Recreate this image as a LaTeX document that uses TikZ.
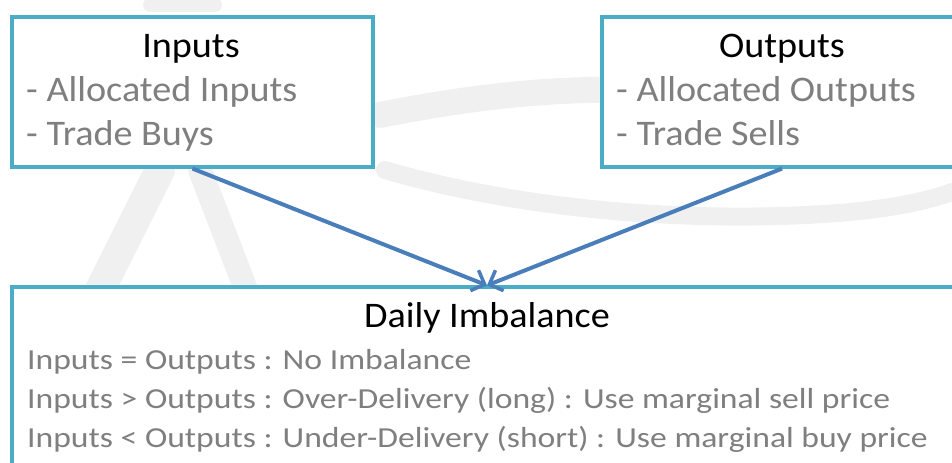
\documentclass[tikz,border=0pt]{standalone}
\usepackage{fontspec}
\setmainfont{Carlito}
\newfontfamily\bigf[FakeStretch=1.06]{Carlito}
\newfontfamily\smallf[FakeStretch=1.16]{Carlito}
\usetikzlibrary{arrows.meta}
\definecolor{boxc}{HTML}{4BACC6}
\definecolor{arrc}{HTML}{4A7EBB}
\definecolor{txtc}{HTML}{7F7F7F}
\definecolor{wmc}{HTML}{F0F0F0}
\tikzset{
  box/.style={draw=boxc, line width=3.2bp, fill=white, inner sep=0pt},
  ttl/.style={anchor=base, inner sep=0pt, text=black, font=\bigf\fontsize{36bp}{40bp}\selectfont},
  itm/.style={anchor=base west, inner sep=0pt, text=txtc, font=\bigf\fontsize{36bp}{40bp}\selectfont},
  sitm/.style={anchor=base west, inner sep=0pt, text=txtc, font=\smallf\fontsize{29bp}{34bp}\selectfont},
  arr/.style={draw=arrc, line width=4bp, -{Straight Barb[length=11bp,width=22bp,line width=3.5bp]}},
  wm/.style={draw=wmc, line cap=round},
}
\begin{document}
\begin{tikzpicture}[x=1bp,y=-1bp]
\useasboundingbox (0,0) rectangle (952,463);
\begin{scope}
\clip (0,0) rectangle (952,463);
% faint watermark
\draw[wm, line width=26bp] (380,115) .. controls (480,95) and (560,88) .. (640,90);
\draw[wm, line width=18bp] (385,170) .. controls (520,210) and (700,225) .. (850,212) .. controls (900,207) and (930,200) .. (952,192);
\draw[wm, line width=30bp] (95,300) -- (160,170);
\draw[wm, line width=24bp] (200,170) -- (250,300);
\draw[wm, line width=14bp] (150,5) -- (215,5);
% boxes
\node[box, minimum width=361bp, minimum height=150bp] (inp) at (192.5,92) {};
\node[box, minimum width=360bp, minimum height=150bp] (outp) at (782,92) {};
\node[box, minimum width=950bp, minimum height=200bp] (bal) at (487,387) {};
% texts
\node[ttl] (inpt) at (191,58) {Inputs};
\node[itm] (inp1) at (26,102) {- Allocated Inputs};
\node[itm] (inp2) at (26,146) {- Trade Buys};
\node[ttl] (outpt) at (782,58) {Outputs};
\node[itm] (outp1) at (616,102) {- Allocated Outputs};
\node[itm] (outp2) at (616,146) {- Trade Sells};
\node[ttl] (balt) at (487,328) {Daily Imbalance};
\node[sitm] (bal1) at (27,370) {Inputs = Outputs : No Imbalance};
\node[sitm] (bal2) at (27,408) {Inputs > Outputs : Over-Delivery (long) : Use marginal sell price};
\node[sitm] (bal3) at (27,447) {Inputs < Outputs : Under-Delivery (short) : Use marginal buy price};
% arrows
\draw[arr] (inp.south) -- (bal.north);
\draw[arr] (outp.south) -- (bal.north);
\end{scope}
\end{tikzpicture}
\end{document}
